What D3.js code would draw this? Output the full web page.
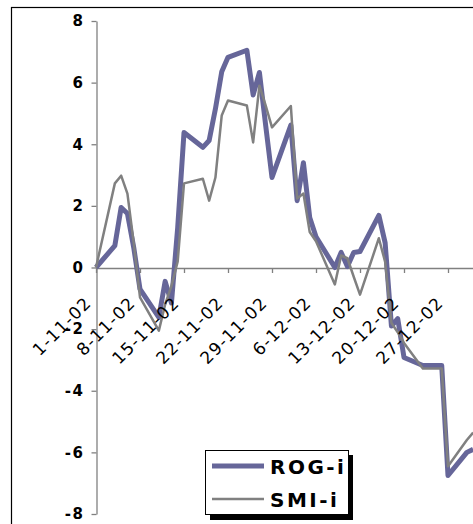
<!DOCTYPE html>
<html>
<head>
<meta charset="utf-8">
<script src="https://cdn.jsdelivr.net/npm/d3@7"></script>
<style>
  html, body { margin: 0; padding: 0; background: #fff; }
  svg { display: block; }
</style>
</head>
<body>
<svg id="chart" width="473" height="524"></svg>
<script>
// ---- data ----
const dates = [
  "1-11-02","4-11-02","5-11-02","6-11-02","7-11-02","8-11-02",
  "11-11-02","12-11-02","13-11-02","14-11-02","15-11-02",
  "18-11-02","19-11-02","20-11-02","21-11-02","22-11-02",
  "25-11-02","26-11-02","27-11-02","28-11-02","29-11-02",
  "2-12-02","3-12-02","4-12-02","5-12-02","6-12-02",
  "9-12-02","10-12-02","11-12-02","12-12-02","13-12-02",
  "16-12-02","17-12-02","18-12-02","19-12-02","20-12-02",
  "23-12-02","24-12-02","25-12-02","26-12-02","27-12-02",
  "30-12-02","31-12-02"
];
const rogValues = [
  0, 0.71, 1.95, 1.75, 0.65, -0.7,
  -1.62, -0.45, -1.15, 1.3, 4.38,
  3.9, 4.12, 5.15, 6.35, 6.82,
  7.05, 5.6, 6.33, 4.6, 2.92,
  4.62, 2.17, 3.4, 1.62, 1.0,
  0.0, 0.49, 0.03, 0.49, 0.52,
  1.69, 0.8, -1.9, -1.66, -2.92,
  -3.18, -3.18, -3.18, -3.18, -6.75,
  -6.0, -5.9
];
const smiValues = [
  0, 2.73, 2.98, 2.4, 0.8, -0.97,
  -2.05, -1.2, -0.6, 0.2, 2.73,
  2.88, 2.17, 2.92, 4.93, 5.42,
  5.26, 4.06, 5.9, 5.25, 4.55,
  5.24, 2.24, 2.4, 1.15, 0.85,
  -0.55, 0.39, 0.3, -0.3, -0.88,
  0.95, 0.18, -1.8, -2.1, -2.45,
  -3.28, -3.28, -3.28, -3.28, -6.45,
  -5.6, -5.36
];
const xTickLabels = ["1-11-02","8-11-02","15-11-02","22-11-02","29-11-02","6-12-02","13-12-02","20-12-02","27-12-02"];
const yTickLabels = ["-8","-6","-4","-2","0","2","4","6","8"];
const seriesNames = ["ROG-i","SMI-i"];
const seriesColors = ["#666699","#808080"];

// ---- setup ----
const parse = d3.utcParse("%d-%m-%y");
const svg = d3.select("#chart");

// outer chart border (extends past the visible area)
svg.append("rect")
  .attr("x", 11.5).attr("y", 7.5)
  .attr("width", 520).attr("height", 560)
  .attr("fill", "#fff").attr("stroke", "#000").attr("stroke-width", 1.2);

const dayPx = 44 / 7;
const x0 = parse("1-11-02"), x1 = parse("1-01-03");
const x = d3.scaleUtc().domain([x0, x1])
  .range([96, 96 + d3.utcDay.count(x0, x1) * dayPx]);
const y = d3.scaleLinear().domain([-8, 8]).range([514, 21]);

// y axis
const yAxis = d3.axisLeft(y)
  .tickValues(yTickLabels.map(Number))
  .tickFormat((d, i) => yTickLabels[i])
  .tickSize(5).tickSizeOuter(0).tickPadding(7);
const gy = svg.append("g").attr("transform", "translate(96.5,0)").call(yAxis);
gy.select(".domain").attr("stroke", "#808080").attr("stroke-width", 1.3);
gy.selectAll(".tick line").attr("stroke", "#808080").attr("stroke-width", 1.3);
gy.selectAll(".tick text")
  .attr("font-family", "'DejaVu Sans', Verdana, sans-serif")
  .attr("font-size", 15).attr("font-weight", "bold")
  .attr("letter-spacing", 1.5)
  .attr("fill", "#000");

// x axis (line + ticks, behind the series)
const xAxis = d3.axisBottom(x)
  .tickValues(xTickLabels.map(parse))
  .tickFormat((d, i) => xTickLabels[i])
  .tickSize(5).tickSizeOuter(0);
const gx = svg.append("g").attr("transform", `translate(0,${y(0) + 0.5})`).call(xAxis);
gx.select(".domain").attr("stroke", "#808080").attr("stroke-width", 1.3);
gx.selectAll(".tick line").attr("stroke", "#808080").attr("stroke-width", 1.3);
gx.selectAll(".tick text").remove();

// lines
const pts = (vals) => dates.map((d, i) => [parse(d), vals[i]]);
const line = d3.line().x(d => x(d[0])).y(d => y(d[1]));
svg.append("path").datum(pts(rogValues))
  .attr("fill", "none").attr("stroke", seriesColors[0])
  .attr("stroke-width", 5).attr("stroke-linejoin", "round")
  .attr("d", line);
svg.append("path").datum(pts(smiValues))
  .attr("fill", "none").attr("stroke", seriesColors[1])
  .attr("stroke-width", 2.5).attr("stroke-linejoin", "round")
  .attr("d", line);

// x tick labels on top of the series
const gxl = svg.append("g").attr("transform", `translate(0,${y(0) + 0.5})`).call(xAxis);
gxl.select(".domain").remove();
gxl.selectAll(".tick line").remove();
gxl.selectAll(".tick text")
  .attr("font-family", "'DejaVu Sans', Verdana, sans-serif")
  .attr("font-size", 17).attr("font-weight", "normal")
  .attr("letter-spacing", 1.2)
  .attr("fill", "#000")
  .attr("text-anchor", "end")
  .attr("x", 0).attr("y", 0).attr("dy", 0)
  .attr("transform", "translate(-4,36) rotate(-45)");

// legend
const lg = svg.append("g");
lg.append("rect").attr("x", 210).attr("y", 455).attr("width", 143).attr("height", 65).attr("fill", "#000");
lg.append("rect").attr("x", 205.5).attr("y", 450.5).attr("width", 143).attr("height", 64)
  .attr("fill", "#fff").attr("stroke", "#000").attr("stroke-width", 1);
const rows = [466, 499];
seriesNames.forEach((name, i) => {
  lg.append("line").attr("x1", 212).attr("x2", 264).attr("y1", rows[i]).attr("y2", rows[i])
    .attr("stroke", seriesColors[i]).attr("stroke-width", i === 0 ? 5 : 2.5);
  lg.append("text").attr("x", 270).attr("y", rows[i] + 7.5)
    .attr("font-family", "'DejaVu Sans', Verdana, sans-serif")
    .attr("font-size", 20).attr("font-weight", "bold")
    .attr("letter-spacing", 2.5)
    .attr("fill", "#000")
    .text(name);
});
</script>
</body>
</html>
